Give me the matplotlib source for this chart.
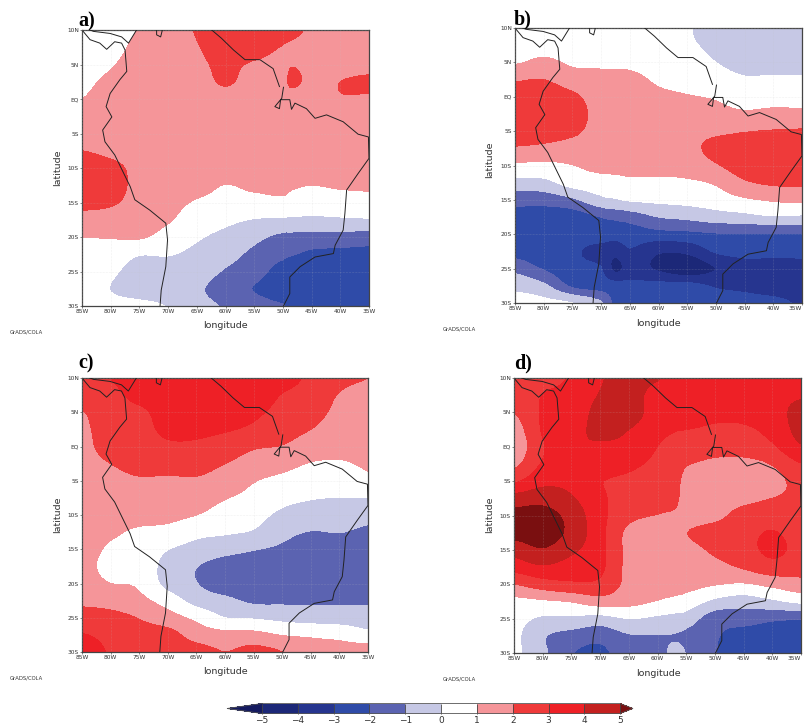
import numpy as np
import matplotlib
matplotlib.use("Agg")
import matplotlib.pyplot as plt
from matplotlib.colors import ListedColormap, BoundaryNorm

W, H = 805, 725
lats = [10, 7.5, 5, 2.5, 0, -2.5, -5, -7.5, -10, -12.5, -15, -17.5, -20, -22.5, -25, -27.5, -30]
lons_a = [-85, -80, -75, -70, -65, -60, -55, -50, -48.5, -45, -40, -35]
lons_b = [-85, -80, -75, -70, -67.5, -65, -60, -55, -50, -45, -40, -35]
lons_c = [-85, -80, -75, -70, -65, -60, -55, -50, -45, -40, -35]
lons_d = [-85, -80, -75, -70, -65, -60, -57, -55, -50, -45, -40, -35]

# each inner list: one longitude column, north to south
field_a = [
 [0.3,0.4,0.6,0.8,1.0,1.3,1.6,2.0,2.5,2.7,2.3,1.6,1.0,0.7,0.5,0.4,0.3],
 [0.5,0.6,0.9,1.2,1.4,1.5,1.6,1.8,2.2,2.3,2.1,1.6,1.05,0.5,0.15,-0.02,0.2],
 [1.05,1.3,1.5,1.6,1.5,1.6,1.6,1.7,1.8,1.8,1.7,1.5,1.1,0.05,-0.35,-0.4,0.2],
 [1.6,1.7,1.7,1.7,1.6,1.6,1.6,1.6,1.6,1.6,1.35,1.1,0.6,0.05,-0.4,-0.6,-0.05],
 [2.05,1.95,1.85,1.8,1.7,1.6,1.6,1.5,1.4,1.3,0.9,0.45,0.1,-0.25,-0.55,-0.85,-0.7],
 [2.5,2.4,2.15,2.05,1.85,1.7,1.6,1.5,1.4,0.98,0.75,0.2,-0.25,-0.65,-1.1,-1.5,-1.1],
 [2.7,2.4,1.9,1.8,1.7,1.6,1.6,1.5,1.4,1.15,0.7,-0.05,-0.75,-1.25,-1.6,-2.05,-1.6],
 [2.4,1.95,1.75,1.75,1.7,1.6,1.6,1.5,1.4,1.2,0.8,-0.15,-1.25,-1.8,-2.4,-2.6,-1.95],
 [2.15,1.9,1.97,2.15,1.65,1.6,1.6,1.5,1.4,1.1,0.65,-0.17,-1.3,-1.95,-2.5,-2.7,-2.2],
 [1.9,1.8,1.8,1.8,1.7,1.6,1.6,1.5,1.4,1.0,0.45,-0.2,-1.4,-2.2,-2.6,-2.9,-2.6],
 [1.7,1.7,1.7,2.0,1.95,1.7,1.6,1.5,1.4,1.1,0.6,-0.15,-1.4,-2.3,-2.7,-2.9,-2.7],
 [1.5,1.6,1.7,2.15,1.9,1.7,1.6,1.5,1.4,1.1,0.75,-0.1,-1.5,-2.35,-2.7,-2.9,-2.8],
]
field_b = [
 [0.3,0.5,0.9,1.9,2.5,2.7,2.5,1.9,0.8,-0.35,-1.65,-2.4,-2.6,-2.4,-1.3,-0.3,0.4],
 [0.3,0.6,1.2,2.0,2.6,2.8,2.5,1.75,0.75,-0.3,-1.65,-2.5,-2.7,-2.8,-2.1,-0.8,0.25],
 [0.2,0.5,0.85,1.45,2.2,2.5,2.2,1.55,0.97,0.4,-1.2,-2.6,-2.8,-2.9,-2.8,-2.2,0.0],
 [0.2,0.4,0.8,1.3,1.5,1.6,1.6,1.5,1.25,0.6,-0.3,-2.0,-2.6,-3.3,-2.95,-2.5,-0.9],
 [0.2,0.38,0.78,1.28,1.5,1.6,1.65,1.55,1.3,0.65,-0.1,-1.8,-2.6,-3.7,-4.25,-2.6,-2.3],
 [0.2,0.35,0.75,1.25,1.5,1.6,1.7,1.6,1.4,0.75,0.1,-1.6,-2.55,-3.1,-3.6,-2.7,-2.3],
 [0.1,0.3,0.55,0.85,1.2,1.5,1.7,1.6,1.3,0.8,0.2,-1.0,-2.4,-3.9,-4.15,-2.7,-2.4],
 [0.05,0.1,0.3,0.65,1.05,1.4,1.7,1.7,1.4,0.85,0.3,-0.8,-2.3,-3.8,-4.7,-2.7,-2.5],
 [-0.4,-0.2,0.0,0.4,0.9,1.3,1.8,2.3,1.9,1.1,0.5,-0.5,-2.1,-2.9,-4.0,-3.1,-2.6],
 [-0.8,-0.7,-0.4,0.1,0.5,1.15,1.95,2.5,2.5,1.85,0.85,-0.35,-2.1,-2.7,-3.4,-3.2,-2.7],
 [-0.8,-0.8,-0.45,0.15,0.6,1.25,2.05,2.6,2.8,2.15,1.1,-0.1,-2.1,-2.7,-3.5,-3.4,-2.8],
 [-0.9,-0.8,-0.5,0.15,0.65,1.2,2.1,2.6,2.8,2.2,1.2,-0.2,-2.1,-2.7,-3.4,-3.4,-3.1],
]
field_c = [
 [2.7,2.4,1.95,1.8,1.7,1.6,1.5,1.5,1.5,1.5,1.4,1.3,1.4,1.8,2.4,3.05,3.5],
 [3.0,2.7,2.6,2.5,2.4,2.0,1.7,1.6,1.4,1.15,0.85,0.7,1.0,1.6,2.3,2.7,2.9],
 [3.6,3.3,2.8,2.6,2.4,2.3,1.9,1.7,1.35,0.85,0.7,0.65,0.85,1.25,1.95,2.4,2.6],
 [3.6,3.5,3.4,3.25,2.8,2.35,1.85,1.6,1.25,0.7,0.02,-0.4,-0.35,0.55,1.4,2.35,2.6],
 [3.7,3.7,3.6,3.25,2.8,2.3,1.9,1.5,1.0,0.25,-0.35,-0.97,-0.97,-0.4,0.75,1.55,2.4],
 [3.8,3.8,3.6,3.1,2.5,2.0,1.6,1.05,0.55,0.1,-0.65,-1.5,-1.6,-0.75,0.0,1.3,2.0],
 [3.9,3.6,3.2,2.8,2.1,1.6,1.05,0.7,0.3,-0.1,-0.95,-1.6,-1.8,-1.2,-0.1,1.3,2.3],
 [3.4,2.95,2.7,2.4,1.95,1.3,0.75,0.25,-0.2,-0.7,-1.2,-1.7,-1.8,-1.2,-0.3,0.95,2.0],
 [2.8,2.6,2.4,2.0,1.5,0.95,0.55,0.05,-0.4,-1.05,-1.6,-1.8,-1.85,-1.2,-0.45,0.85,1.4],
 [2.2,1.95,1.75,1.5,1.25,0.9,0.4,-0.02,-0.5,-0.98,-1.5,-1.9,-1.9,-1.2,-0.5,0.7,1.4],
 [2.0,1.8,1.7,1.5,1.3,1.1,0.8,0.0,-0.7,-1.2,-1.6,-1.8,-1.8,-1.2,-0.5,0.25,1.6],
]
field_d = [
 [2.7,2.4,2.0,1.5,1.3,1.75,2.85,4.4,5.3,5.3,4.4,3.4,2.0,0.7,0.3,0.2,0.2],
 [2.7,3.02,3.1,3.1,2.9,3.1,3.7,4.6,5.4,5.5,4.9,3.85,2.5,0.85,-0.15,-0.9,-0.8],
 [3.1,3.3,3.4,3.6,3.85,3.6,3.7,4.1,4.6,4.7,4.2,3.5,2.8,1.05,-0.2,-1.4,-1.95],
 [3.9,4.05,4.3,4.25,3.85,3.5,3.05,3.2,3.3,3.3,3.3,3.2,2.75,1.5,-0.4,-1.7,-2.2],
 [4.4,4.4,4.5,4.0,3.7,3.2,2.8,2.5,2.25,1.75,1.7,1.7,1.7,1.3,0.0,-1.1,-1.5],
 [4.05,3.6,3.5,3.3,3.0,2.8,2.6,2.4,1.97,1.6,1.5,1.5,1.4,0.95,-0.2,-1.05,-1.4],
 [3.8,3.55,3.45,3.05,2.7,2.5,2.4,2.25,1.85,1.6,1.55,1.5,1.35,0.75,-0.35,-1.05,-0.75],
 [3.6,3.5,3.4,3.0,2.4,2.05,1.6,1.5,1.6,1.98,1.7,1.5,1.3,0.55,-0.5,-1.25,-1.05],
 [3.6,3.4,3.2,2.85,2.3,1.85,1.6,1.5,1.7,2.4,2.15,1.7,1.05,-0.25,-1.6,-1.9,-1.95],
 [3.7,3.5,3.3,2.85,2.5,1.7,1.5,1.7,2.4,2.7,2.6,2.1,0.9,-0.55,-1.6,-2.4,-2.6],
 [3.7,3.7,3.6,3.3,2.85,2.05,1.6,2.0,2.6,3.05,3.2,2.6,1.25,-0.2,-1.85,-2.5,-2.7],
 [3.7,3.9,4.3,4.3,3.9,2.95,2.4,2.2,2.3,2.6,2.7,2.4,1.6,0.2,-1.95,-2.6,-2.8],
]

levels = [-5, -4, -3, -2, -1, 0, 1, 2, 3, 4, 5]
colors = ['#141a60', '#1c2878', '#26358f', '#2f4ba8', '#5b63b1', '#c6c8e5', '#ffffff',
          '#f59599', '#ef3a3a', '#ee2026', '#c3201f', '#7a0f10']

panel_labels = ['a)', 'b)', 'c)', 'd)']
lon_ticks = [-85, -80, -75, -70, -65, -60, -55, -50, -45, -40, -35]
lon_labels = ['85W', '80W', '75W', '70W', '65W', '60W', '55W', '50W', '45W', '40W', '35W']
lat_ticks = [10, 5, 0, -5, -10, -15, -20, -25, -30]
lat_labels = ['10N', '5N', 'EQ', '5S', '10S', '15S', '20S', '25S', '30S']
credit = 'GrADS/COLA'

coast_west_lon = [-71.4,-71.2,-70.4,-70.1,-70.4,-73.2,-75.8,-76.6,-79.3,-81,-81.4,-79.8,-80.8,-80.1,-78.4,-77.2,-77.5,-78.1,-79.3,-80.7,-81.9,-83.6,-84.8]
coast_west_lat = [-30,-27.7,-24.3,-20.4,-18,-16.1,-14.6,-12.7,-8.1,-6.2,-4.5,-2.6,-1.1,0.8,2.8,4,7.1,8.1,8.3,7.2,8.1,8.6,9.8]
coast_carib_lon = [-83.6,-83,-80.1,-78.1,-76.9,-75.5]
coast_carib_lat = [10,9.8,9.5,9,8.1,10]
coast_lake_lon = [-72,-72,-71.3,-71]
coast_lake_lat = [10,9.3,9,10]
coast_n_lon = [-62.4,-60.7,-58.6,-56.6,-54,-51.7,-50.6]
coast_n_lat = [10,8.8,7.1,5.7,5.7,4.4,1.8]
coast_e_lon = [-49.9,-50.2,-51.4,-50.6,-50.4,-48.8,-48.5,-47.9,-45.9,-44.4,-42.4,-39.5,-36.9,-35.1,-35,-36.9,-38.9,-39.2,-39.5,-40.9,-41.2,-44.4,-47,-48.8,-48.8,-49.9]
coast_e_lat = [1.7,0.1,-1.1,-1.4,-0.1,-0.1,-1.5,-0.6,-1.4,-2.8,-2.3,-3.3,-5.1,-5.5,-8.6,-10.8,-13.2,-16.6,-19,-21.2,-22.4,-22.9,-24.3,-25.8,-28.2,-30]
coasts = [(coast_west_lon, coast_west_lat), (coast_carib_lon, coast_carib_lat),
          (coast_lake_lon, coast_lake_lat), (coast_n_lon, coast_n_lat), (coast_e_lon, coast_e_lat)]

# pixel boxes: left, top, right, bottom
boxes = [(82, 30, 369, 306), (515, 28, 802, 303), (82, 378, 368, 652), (514, 378, 801, 653)]
label_xy = [(78, 26), (514, 24), (78, 368), (514, 368)]
credit_xy = [(10, 332), (443, 329), (10, 678), (443, 679)]
ylabel_xy = [(58, 168), (490, 160), (58, 515), (490, 515)]
xlabel_xy = [(225, 325), (658, 323), (225, 672), (658, 673)]


def catmull(arr, n, axis):
    arr = np.moveaxis(np.asarray(arr, float), axis, 0)
    m = arr.shape[0]
    t = np.linspace(0, m - 1, (m - 1) * n + 1)
    i = np.minimum(t.astype(int), m - 2)
    u = (t - i).reshape((-1,) + (1,) * (arr.ndim - 1))
    p1, p2 = arr[i], arr[i + 1]
    p0 = arr[np.maximum(i - 1, 0)]
    p3 = arr[np.minimum(i + 2, m - 1)]
    out = 0.5 * (2 * p1 + (p2 - p0) * u + (2 * p0 - 5 * p1 + 4 * p2 - p3) * u ** 2
                 + (3 * p1 - p0 - 3 * p2 + p3) * u ** 3)
    return np.moveaxis(out, 0, axis), t


def refine(lons, field, n=6):
    z = np.asarray(field, float).T
    z, ty = catmull(z, n, 0)
    z, tx = catmull(z, n, 1)
    return np.interp(tx, np.arange(len(lons)), lons), np.interp(ty, np.arange(len(lats)), lats), z


fig = plt.figure(figsize=(W / 100, H / 100), dpi=100, facecolor='white')
cmap = ListedColormap(colors[1:-1])
cmap.set_under(colors[0])
cmap.set_over(colors[-1])
norm = BoundaryNorm(levels, cmap.N)
ink = '#333333'
cf = None
panels = [(lons_a, field_a), (lons_b, field_b), (lons_c, field_c), (lons_d, field_d)]
for k, (lons, field) in enumerate(panels):
    l, t, r, b = boxes[k]
    ax = fig.add_axes([l / W, 1 - b / H, (r - l) / W, (b - t) / H])
    x, y, z = refine(lons, field)
    cf = ax.contourf(x, y, z, levels=levels, cmap=cmap, norm=norm, extend='both')
    ax.grid(True, ls=':', lw=0.4, color='#c4c4c4', alpha=0.45)
    ax.set_axisbelow(False)
    for cx, cy in coasts:
        ax.plot(cx, cy, color='#222222', lw=0.7, zorder=5, clip_on=True)
    ax.set_xlim(-85, -35)
    ax.set_ylim(-30, 10)
    ax.set_xticks(lon_ticks, lon_labels)
    ax.set_yticks(lat_ticks, lat_labels)
    ax.tick_params(labelsize=4.2, length=1.5, width=0.4, pad=0.8, colors=ink)
    if k in (1, 3):
        ax.get_xticklabels()[-1].set_ha('right')
    for s in ax.spines.values():
        s.set_linewidth(0.9)
        s.set_color('#444444')
    fig.text(label_xy[k][0] / W, 1 - label_xy[k][1] / H, panel_labels[k], family='Liberation Serif',
             weight='bold', fontsize=14.5, ha='left', va='baseline', color='black')
    fig.text(credit_xy[k][0] / W, 1 - credit_xy[k][1] / H, credit, fontsize=3.8, ha='left', va='center', color=ink)
    fig.text(ylabel_xy[k][0] / W, 1 - ylabel_xy[k][1] / H, 'latitude', rotation=90, fontsize=6.8,
             ha='center', va='center', color=ink)
    fig.text(xlabel_xy[k][0] / W, 1 - xlabel_xy[k][1] / H, 'longitude', fontsize=6.8,
             ha='center', va='center', color=ink)

cax = fig.add_axes([227 / W, 1 - 713.5 / H, 406 / W, 10 / H])
cb = fig.colorbar(cf, cax=cax, orientation='horizontal', ticks=levels, drawedges=True,
                  extendfrac=[0.098, 0.036], spacing='uniform')
cb.ax.tick_params(length=0, labelsize=6.5, pad=1.5, colors=ink)
cb.outline.set_linewidth(0.6)
cb.outline.set_edgecolor('#555555')
cb.dividers.set_linewidth(0.6)
cb.dividers.set_color('#444444')
fig.savefig('out.png', dpi=100, facecolor='white')
